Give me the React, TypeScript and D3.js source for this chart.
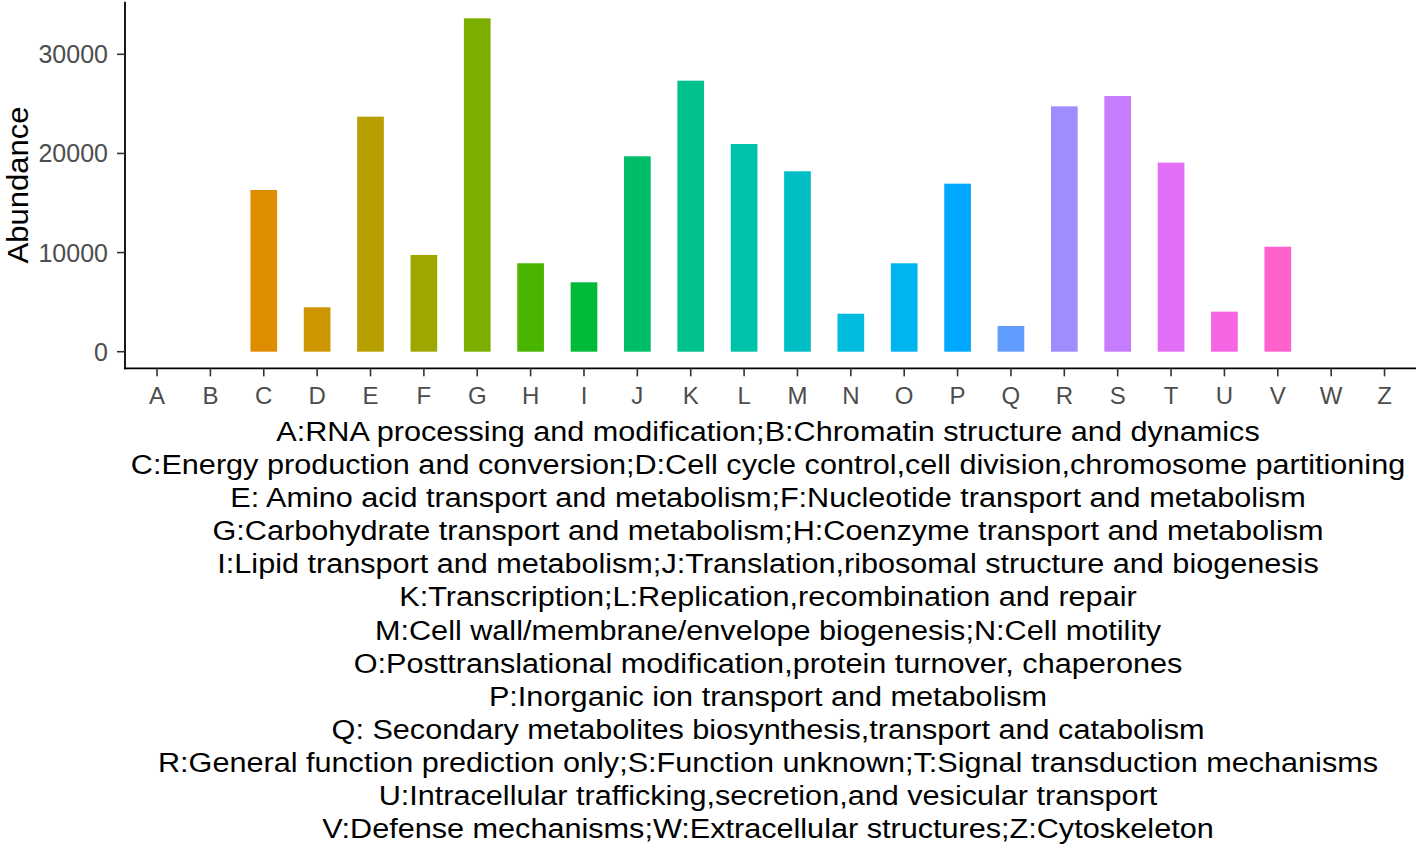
import React, { useLayoutEffect, useRef, useState } from "react";
import * as d3 from "d3";

const categories = ["A","B","C","D","E","F","G","H","I","J","K","L","M","N","O","P","Q","R","S","T","U","V","W","Z"];
const abundance = [0,0,16310,4480,23710,9760,33630,8920,7000,19710,27340,20950,18200,3830,8920,16950,2590,24750,25790,19070,4040,10590,0,0];
const yTicks = [0,10000,20000,30000];
const yTitle = "Abundance";
const captionLines = [
  "A:RNA processing and modification;B:Chromatin structure and dynamics",
  "C:Energy production and conversion;D:Cell cycle control,cell division,chromosome partitioning",
  "E: Amino acid transport and metabolism;F:Nucleotide transport and metabolism",
  "G:Carbohydrate transport and metabolism;H:Coenzyme transport and metabolism",
  "I:Lipid transport and metabolism;J:Translation,ribosomal structure and biogenesis",
  "K:Transcription;L:Replication,recombination and repair",
  "M:Cell wall/membrane/envelope biogenesis;N:Cell motility",
  "O:Posttranslational modification,protein turnover, chaperones",
  "P:Inorganic ion transport and metabolism",
  "Q: Secondary metabolites biosynthesis,transport and catabolism",
  "R:General function prediction only;S:Function unknown;T:Signal transduction mechanisms",
  "U:Intracellular trafficking,secretion,and vesicular transport",
  "V:Defense mechanisms;W:Extracellular structures;Z:Cytoskeleton",
];

// R grDevices::hcl (polar CIE-LUV) -> hex, as used by ggplot2's hue palette
function hcl(h: number, c: number, l: number): string {
  const WHITE_Y = 100, WHITE_u = 0.1978398, WHITE_v = 0.4683363;
  const hr = (h * Math.PI) / 180;
  const U = c * Math.cos(hr), V = c * Math.sin(hr);
  const Y = WHITE_Y * (l > 7.999592 ? Math.pow((l + 16) / 116, 3) : l / 903.3);
  const u = U / (13 * l) + WHITE_u;
  const v = V / (13 * l) + WHITE_v;
  const X = (9.0 * Y * u) / (4 * v);
  const Z = -X / 3 - 5 * Y + (3 * Y) / v;
  const g = (t: number) => (t > 0.00304 ? 1.055 * Math.pow(t, 1 / 2.4) - 0.055 : 12.92 * t);
  const cl = (t: number) => Math.round(Math.max(0, Math.min(1, t)) * 255);
  const r = cl(g((3.240479 * X - 1.53715 * Y - 0.498535 * Z) / WHITE_Y));
  const gg = cl(g((-0.969256 * X + 1.875992 * Y + 0.041556 * Z) / WHITE_Y));
  const b = cl(g((0.055648 * X - 0.204043 * Y + 1.057311 * Z) / WHITE_Y));
  return d3.rgb(r, gg, b).formatHex();
}

const W = 1416, H = 848;
const FONT = "'Liberation Sans', Arial, Helvetica, sans-serif";

export default function App() {
  const refLine = useRef<SVGTextElement>(null);
  const [sx, setSx] = useState(1);

  const n = categories.length;
  const panelLeft = 125;
  const step = 53.37;
  const panelRight = panelLeft + (n - 1 + 1.2) * step;
  const x = d3.scaleBand<string>().domain(categories).range([panelLeft, panelRight]).paddingInner(0.5).paddingOuter(0.35);

  const y = d3.scaleLinear().domain([0, 30000]).range([351.7, 54.3]);
  const maxV = d3.max(abundance) as number;
  const span = y(0) - y(maxV);
  const panelBottom = y(0) + 0.05 * span;
  const panelTop = y(maxV) - 0.05 * span;

  const hues = categories.map((_, i) => 15 + (360 / n) * i);
  const color = d3.scaleOrdinal<string, string>().domain(categories).range(hues.map((h) => hcl(h, 100, 65)));

  const captionCx = 768;
  const captionBase = 441;
  const lineGap = 33.1;
  const targetWidth = 1275;

  useLayoutEffect(() => {
    if (refLine.current) {
      const w = refLine.current.getComputedTextLength();
      if (w > 0) setSx(targetWidth / w);
    }
  }, []);

  return (
    <svg width={W} height={H} style={{ position: "absolute", left: 0, top: 0, background: "#fff" }}>
      <rect x={0} y={0} width={W} height={H} fill="#fff" />
      {/* bars */}
      {categories.map((c, i) => (
        <rect
          key={c}
          x={x(c)}
          width={x.bandwidth()}
          y={y(abundance[i])}
          height={y(0) - y(abundance[i])}
          fill={color(c)}
        />
      ))}
      {/* y axis */}
      <line x1={panelLeft} x2={panelLeft} y1={panelTop} y2={panelBottom + 0.9} stroke="#000" strokeWidth={1.8} />
      {yTicks.map((t) => (
        <g key={t}>
          <line x1={panelLeft - 8} x2={panelLeft} y1={y(t)} y2={y(t)} stroke="#333" strokeWidth={1.6} />
          <text x={108} y={y(t)} dy="0.36em" textAnchor="end" fontSize={25} fill="#4d4d4d" fontFamily={FONT}>
            {t}
          </text>
        </g>
      ))}
      {/* x axis */}
      <line x1={panelLeft - 0.9} x2={panelRight} y1={panelBottom} y2={panelBottom} stroke="#000" strokeWidth={1.8} />
      {categories.map((c) => {
        const cx = (x(c) as number) + x.bandwidth() / 2;
        return (
          <g key={c}>
            <line x1={cx} x2={cx} y1={panelBottom} y2={panelBottom + 8} stroke="#333" strokeWidth={1.6} />
            <text x={cx} y={395} dy="0.36em" textAnchor="middle" fontSize={24} fill="#4d4d4d" fontFamily={FONT}>
              {c}
            </text>
          </g>
        );
      })}
      {/* y title */}
      <text
        transform={`translate(17,${(panelTop + panelBottom) / 2}) rotate(-90)`}
        dy="0.36em"
        textAnchor="middle"
        fontSize={30}
        textLength={157}
        lengthAdjust="spacingAndGlyphs"
        fill="#000"
        fontFamily={FONT}
      >
        {yTitle}
      </text>
      {/* caption */}
      <g transform={`translate(${captionCx},0) scale(${sx},1)`}>
        {captionLines.map((l, i) => (
          <text
            key={i}
            ref={i === 1 ? refLine : undefined}
            x={0}
            y={captionBase + i * lineGap}
            textAnchor="middle"
            fontSize={28}
            fill="#000"
            fontFamily={FONT}
          >
            {l}
          </text>
        ))}
      </g>
    </svg>
  );
}
